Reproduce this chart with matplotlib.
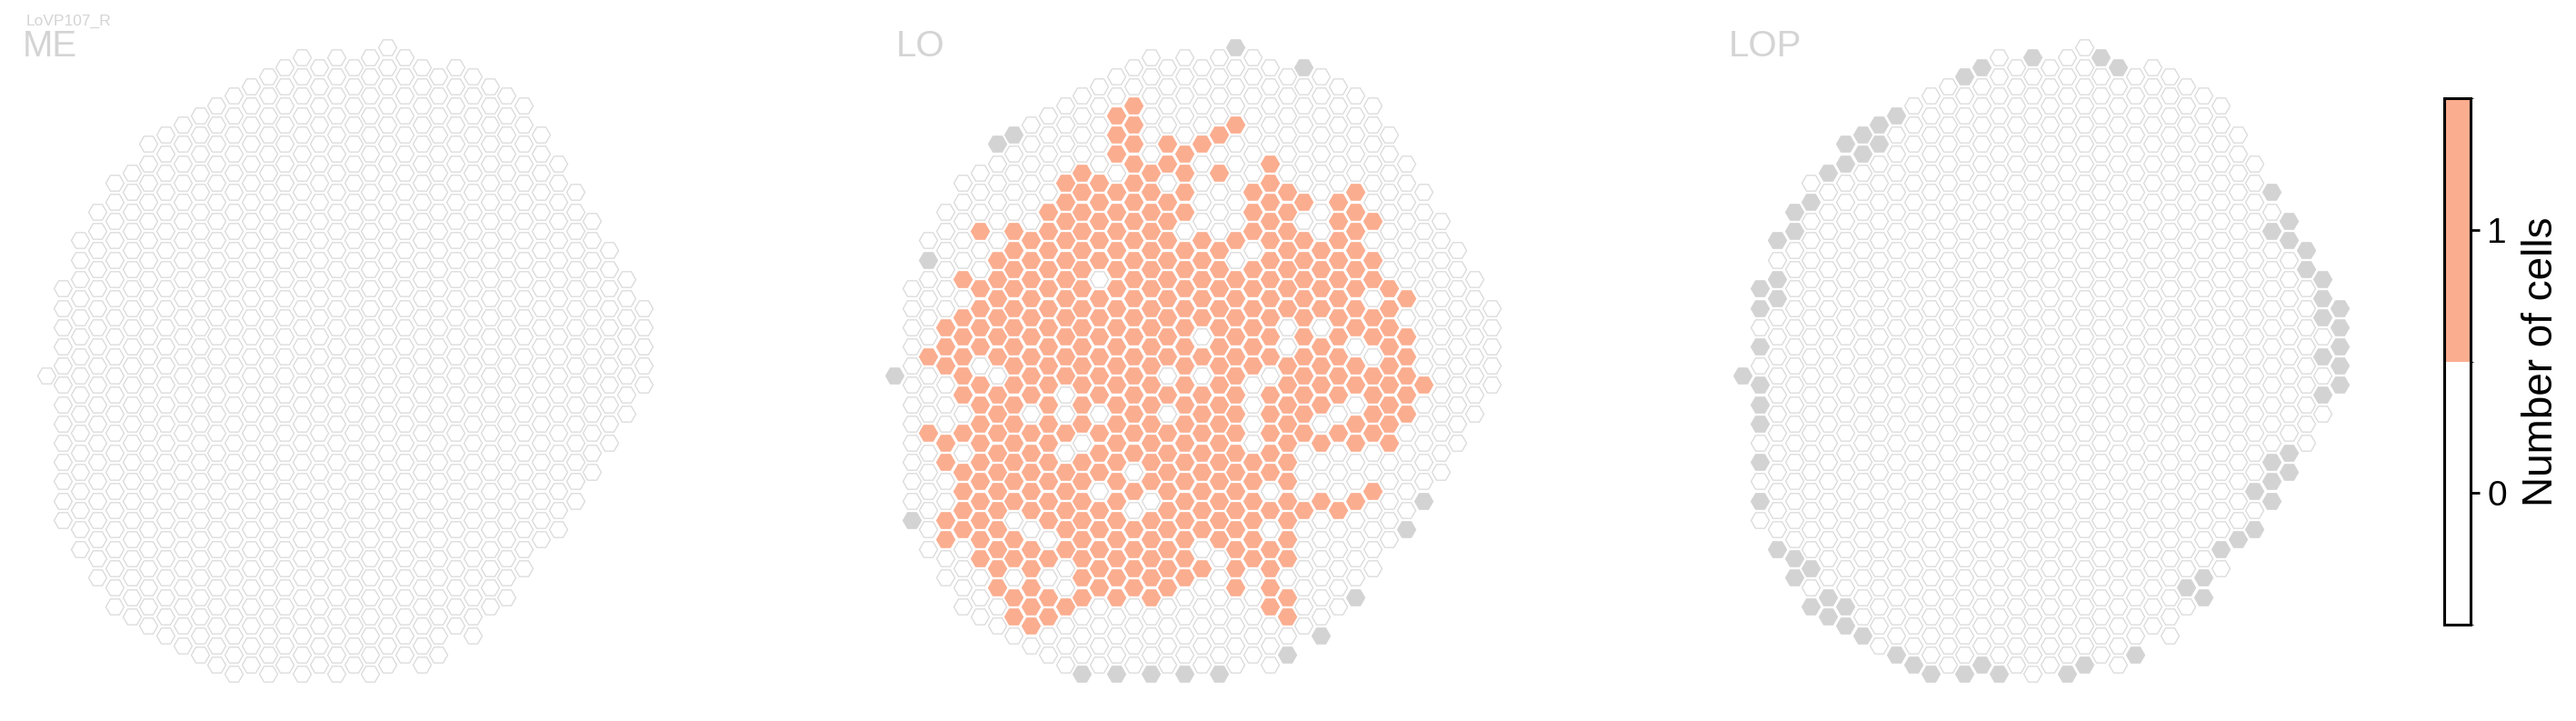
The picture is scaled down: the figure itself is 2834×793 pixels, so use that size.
import numpy as np
import matplotlib.pyplot as plt
from matplotlib.colors import ListedColormap, BoundaryNorm
from matplotlib.cm import ScalarMappable

plt.rcParams['font.family'] = ['Liberation Sans', 'DejaVu Sans']

W, H, DPI = 2834, 793, 100

# eye map columns: first / last half-row index of every hex column
COL_TOP = [34, 25, 20, 17, 14, 13, 10, 9, 8, 7, 6, 5, 4, 3, 2, 1, 2, 1,
           2, 1, 0, 1, 2, 3, 2, 3, 4, 5, 6, 9, 12, 15, 18, 21, 24, 27]
COL_BOTTOM = [34, 49, 52, 55, 58, 59, 60, 61, 62, 63, 64, 65, 64, 65, 64, 65, 64, 65,
              64, 65, 64, 63, 64, 63, 60, 61, 58, 57, 54, 51, 50, 47, 44, 41, 38, 35]

# number of cells per hex, top to bottom in each column ('-' = column not in neuropil)
ME_CELLS = [
    "0",
    "00000 00000 000",
    "00000 00000 00000 00",
    "00000 00000 00000 00000",
    "00000 00000 00000 00000 000",
    "00000 00000 00000 00000 0000",
    "00000 00000 00000 00000 00000 0",
    "00000 00000 00000 00000 00000 00",
    "00000 00000 00000 00000 00000 000",
    "00000 00000 00000 00000 00000 0000",
    "00000 00000 00000 00000 00000 00000",
    "00000 00000 00000 00000 00000 00000 0",
    "00000 00000 00000 00000 00000 00000 0",
    "00000 00000 00000 00000 00000 00000 00",
    "00000 00000 00000 00000 00000 00000 00",
    "00000 00000 00000 00000 00000 00000 000",
    "00000 00000 00000 00000 00000 00000 00",
    "00000 00000 00000 00000 00000 00000 000",
    "00000 00000 00000 00000 00000 00000 00",
    "00000 00000 00000 00000 00000 00000 000",
    "00000 00000 00000 00000 00000 00000 000",
    "00000 00000 00000 00000 00000 00000 00",
    "00000 00000 00000 00000 00000 00000 00",
    "00000 00000 00000 00000 00000 00000 0",
    "00000 00000 00000 00000 00000 00000",
    "00000 00000 00000 00000 00000 00000",
    "00000 00000 00000 00000 00000 000",
    "00000 00000 00000 00000 00000 00",
    "00000 00000 00000 00000 00000",
    "00000 00000 00000 00000 00",
    "00000 00000 00000 00000",
    "00000 00000 00000 00",
    "00000 00000 0000",
    "00000 00000 0",
    "00000 000",
    "00000",
]

LO_CELLS = [
    "-",
    "00000 00000 00-",
    "0-000 01000 10000 00",
    "00000 01110 00110 01100",
    "00000 10111 11010 11110 000",
    "00010 01111 01111 11111 1000",
    "-0000 01111 11011 11111 11110 0",
    "-0000 11111 11111 11111 01101 10",
    "00000 01111 11111 01111 10111 110",
    "00000 11111 11111 11111 11010 1100",
    "00001 11111 11111 00101 11110 01000",
    "00001 11111 11111 11101 11111 11000 -",
    "00000 11111 01111 11011 10111 11000 0",
    "00111 01111 11111 11111 11111 11100 0-",
    "00111 11111 11111 11111 10101 11100 00",
    "00000 01111 11111 11111 11101 11110 00-",
    "00001 10111 11111 10101 11111 11100 00",
    "00000 11110 11111 11111 11111 11100 00-",
    "00001 00001 11110 10111 11111 01000 00",
    "00001 01000 11111 11111 11111 10000 00-",
    "-0001 00000 10111 11111 11111 11110 000",
    "00000 00111 01111 11000 01111 11000 00",
    "00000 11111 11111 10111 11010 11110 00",
    "00000 01111 11100 11111 11111 10110 -",
    "-0000 00101 11111 11111 00010 00000",
    "00000 00001 11101 11101 00100 0000-",
    "00000 01111 11111 11010 00100 000",
    "00000 11111 11101 10110 01000 0-",
    "00000 01011 01101 11100 10000",
    "00000 00011 11111 11000 00",
    "00000 00101 11110 0000-",
    "00000 00000 10000 0-",
    "00000 00000 0000",
    "00000 00000 0",
    "00000 000",
    "00000",
]

LOP_CELLS = [
    "-",
    "--0-0 ---0- 0-0",
    "-0--0 00000 00000 0-",
    "--000 00000 00000 000--",
    "0-000 00000 00000 00000 -0-",
    "-0000 00000 00000 00000 00--",
    "--000 00000 00000 00000 0000- -",
    "--000 00000 00000 00000 00000 0-",
    "--000 00000 00000 00000 00000 000",
    "-0000 00000 00000 00000 00000 000-",
    "00000 00000 00000 00000 00000 0000-",
    "00000 00000 00000 00000 00000 00000 -",
    "00000 00000 00000 00000 00000 00000 0",
    "-0000 00000 00000 00000 00000 00000 0-",
    "-0000 00000 00000 00000 00000 00000 0-",
    "00000 00000 00000 00000 00000 00000 00-",
    "00000 00000 00000 00000 00000 00000 00",
    "-0000 00000 00000 00000 00000 00000 000",
    "00000 00000 00000 00000 00000 00000 00",
    "00000 00000 00000 00000 00000 00000 00-",
    "00000 00000 00000 00000 00000 00000 00-",
    "-0000 00000 00000 00000 00000 00000 00",
    "-0000 00000 00000 00000 00000 00000 00",
    "00000 00000 00000 00000 00000 00000 -",
    "00000 00000 00000 00000 00000 00000",
    "00000 00000 00000 00000 00000 00000",
    "00000 00000 00000 00000 00000 0-0",
    "00000 00000 00000 00000 00000 --",
    "00000 00000 00000 00000 000-0",
    "00000 00000 00000 00000 0-",
    "00000 00000 00000 00-0-",
    "-0-00 00000 0000- --",
    "--000 00000 00--",
    "--000 00000 0",
    "---0- 0-0",
    "-----",
]

PANELS = [("ME", ME_CELLS), ("LO", LO_CELLS), ("LOP", LOP_CELLS)]
TITLE_X = [25, 986, 1902]
CELL_TYPE = "LoVP107_R"
CBAR_TICKS = [0, 1]
CBAR_LABEL = "Number of cells"

ORANGE = "#fbad8f"
GRAY = "#d3d3d3"
EDGE = "#d9d9d9"
TEXT_GRAY = "#d4d4d4"


def hex_table(cells):
    xs, ys, vals = [], [], []
    for c, col in enumerate(cells):
        col = col.replace(" ", "")
        assert len(col) == (COL_BOTTOM[c] - COL_TOP[c]) // 2 + 1, (c, len(col))
        for k, ch in enumerate(col):
            xs.append(c)
            ys.append(COL_TOP[c] + 2 * k)
            vals.append(ch)
    return np.array(xs), np.array(ys), np.array(vals)


fig = plt.figure(figsize=(W / DPI, H / DPI), dpi=DPI)

# hex size: circumradius 10 px
size = (2 * 10 * 72 / DPI) ** 2
lw = 0.9

for p, (name, cells) in enumerate(PANELS):
    left = 22.5 + 933.3 * p
    ax = fig.add_axes([left / W, (H - 31.1 - 731.4) / H, 713.3 / W, 731.4 / H])
    ax.set_xlim(-1.5, 36.5)
    ax.set_ylim(67, -2)
    ax.axis("off")
    x, y, v = hex_table(cells)
    m = v == "0"
    ax.scatter(x[m], y[m], s=size, marker="H", facecolor="white",
               edgecolor=EDGE, linewidth=lw)
    m = v == "-"
    ax.scatter(x[m], y[m], s=size, marker="H", facecolor=GRAY,
               edgecolor=GRAY, linewidth=lw)
    m = v == "1"
    ax.scatter(x[m], y[m], s=size, marker="H", facecolor=ORANGE,
               edgecolor=ORANGE, linewidth=lw)
    fig.text(TITLE_X[p] / W, 1 - 62 / H, name, fontsize=29, color=TEXT_GRAY,
             va="baseline", ha="left")

fig.text(29 / W, 1 - 28 / H, CELL_TYPE, fontsize=12.5, color=TEXT_GRAY,
         va="baseline", ha="left")

cax = fig.add_axes([2689 / W, (H - 687) / H, 29 / W, 579 / H])
cmap = ListedColormap(["white", ORANGE])
norm = BoundaryNorm([-0.5, 0.5, 1.5], cmap.N)
cb = fig.colorbar(ScalarMappable(norm=norm, cmap=cmap), cax=cax, ticks=CBAR_TICKS)
cb.outline.set_linewidth(2.2)
cb.ax.tick_params(length=7, width=2, labelsize=28, pad=6)
cb.set_label(CBAR_LABEL, fontsize=33, labelpad=12)

fig.savefig("out.png", dpi=DPI)
